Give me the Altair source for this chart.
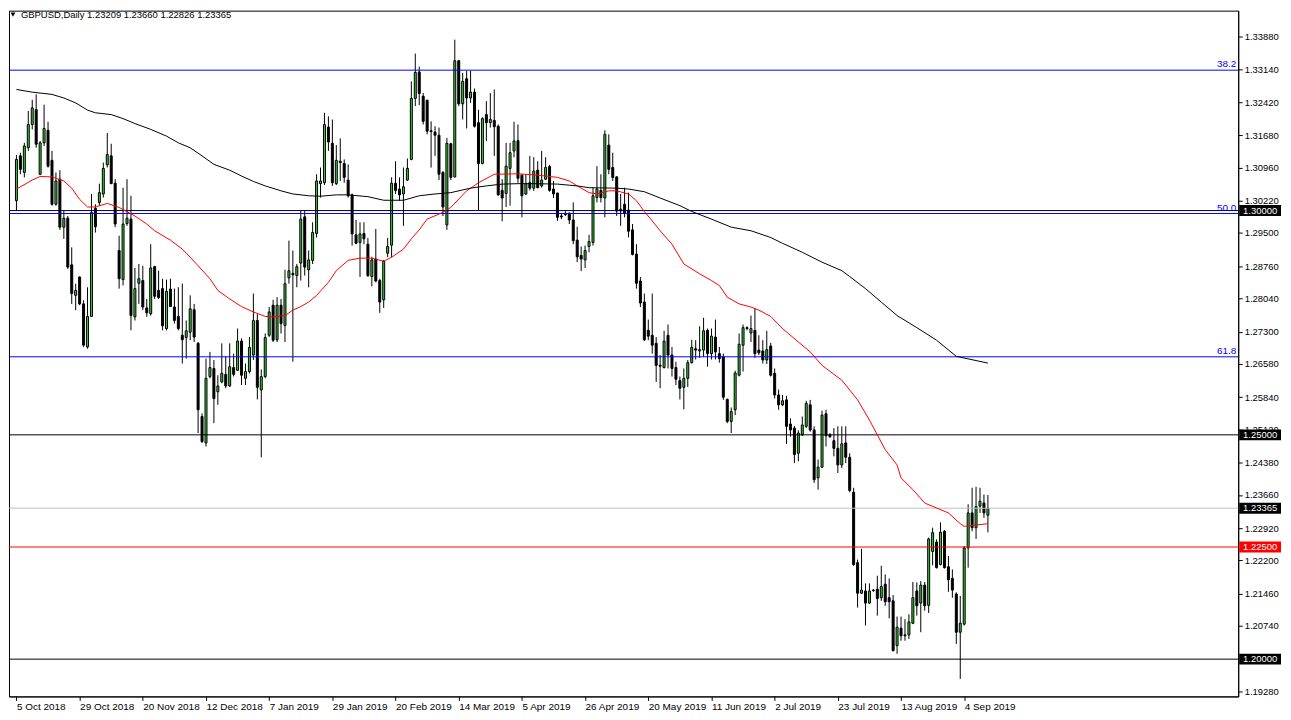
import json
import altair as alt
import pandas as pd

# ---------------- data ----------------
title_text = "GBPUSD,Daily  1.23209 1.23660 1.22826 1.23365"

opens = [1.3022,1.3122,1.3085,1.3140,1.3192,1.3225,1.3081,1.3151,1.3179,1.3112,
1.3014,1.3070,1.2963,1.2983,1.2879,1.2811,1.2852,1.2792,1.2696,1.2764,
1.3005,1.3018,1.3037,1.3102,1.3122,1.3061,1.2911,1.2846,1.2971,1.2981,
1.2763,1.2838,1.2844,1.2783,1.2770,1.2875,1.2822,1.2826,1.2737,1.2825,
1.2785,1.2764,1.2722,1.2717,1.2729,1.2779,1.2704,1.2541,1.2482,1.2630,
1.2648,1.2596,1.2618,1.2635,1.2609,1.2650,1.2644,1.2709,1.2626,1.2641,
1.2678,1.2755,1.2600,1.2630,1.2722,1.2789,1.2712,1.2789,1.2744,1.2850,
1.2860,1.2855,1.2883,1.2986,1.2868,1.2889,1.2949,1.3060,1.3062,1.3186,
1.3150,1.3060,1.3110,1.3105,1.3068,1.3035,1.2946,1.2929,1.2949,1.2925,
1.2853,1.2892,1.2844,1.2801,1.2905,1.2923,1.3061,1.3048,1.3037,1.3068,
1.3114,1.3250,1.3309,1.3255,1.3246,1.3178,1.3175,1.3168,1.3085,1.2968,
1.3149,1.3075,1.3334,1.3238,1.3294,1.3251,1.3264,1.3196,1.3105,1.3214,
1.3196,1.3201,1.3188,1.3045,1.3038,1.3094,1.3133,1.3156,1.3079,1.3037,
1.3062,1.3050,1.3090,1.3055,1.3070,1.3098,1.3048,1.3039,1.2988,1.2992,
1.2994,1.2979,1.2934,1.2900,1.2890,1.2920,1.2929,1.3029,1.3045,1.3028,
1.3146,1.3096,1.3075,1.3003,1.3014,1.3001,1.2957,1.2903,1.2843,1.2796,
1.2733,1.2722,1.2704,1.2655,1.2650,1.2722,1.2678,1.2650,1.2621,1.2606,
1.2626,1.2661,1.2692,1.2687,1.2689,1.2733,1.2681,1.2718,1.2681,1.2674,
1.2579,1.2530,1.2556,1.2633,1.2700,1.2739,1.2727,1.2733,1.2689,1.2687,
1.2667,1.2698,1.2637,1.2589,1.2567,1.2578,1.2524,1.2515,1.2459,1.2500,
1.2519,1.2567,1.2511,1.2404,1.2428,1.2547,1.2500,1.2487,1.2470,1.2433,
1.2482,1.2450,1.2372,1.2215,1.2147,1.2152,1.2125,1.2154,1.2156,1.2137,
1.2167,1.2137,1.2130,1.2030,1.2069,1.2054,1.2054,1.2080,1.2152,1.2125,
1.2165,1.2120,1.2240,1.2261,1.2211,1.2285,1.2206,1.2180,1.2145,1.2060,
1.2078,1.2248,1.2326,1.2293,1.2341,1.2348,1.23209]

highs = [1.3124,1.3129,1.3151,1.3222,1.3247,1.3259,1.3155,1.3236,1.3198,1.3133,
1.3085,1.3090,1.2999,1.2988,1.2918,1.2837,1.2853,1.2800,1.2829,1.3037,
1.3014,1.3060,1.3107,1.3173,1.3149,1.3070,1.2944,1.3051,1.3070,1.3033,
1.2872,1.2881,1.2877,1.2803,1.2925,1.2877,1.2866,1.2848,1.2846,1.2848,
1.2826,1.2829,1.2837,1.2755,1.2811,1.2792,1.2707,1.2548,1.2670,1.2685,
1.2667,1.2633,1.2704,1.2675,1.2704,1.2681,1.2737,1.2715,1.2659,1.2718,
1.2815,1.2769,1.2646,1.2726,1.2785,1.2801,1.2807,1.2803,1.2868,1.2933,
1.2911,1.2881,1.2999,1.2999,1.2911,1.2974,1.3081,1.3096,1.3218,1.3210,
1.3203,1.3146,1.3161,1.3114,1.3103,1.3038,1.2979,1.2974,1.2974,1.2939,
1.2897,1.2959,1.2848,1.2890,1.2939,1.3074,1.3110,1.3074,1.3096,1.3116,
1.3288,1.3350,1.3321,1.3262,1.3247,1.3199,1.3188,1.3185,1.3088,1.3162,
1.3151,1.3381,1.3336,1.3307,1.3312,1.3312,1.3272,1.3225,1.3208,1.3244,
1.3262,1.3270,1.3192,1.3070,1.3151,1.3151,1.3198,1.3192,1.3081,1.3081,
1.3122,1.3119,1.3110,1.3133,1.3119,1.3102,1.3066,1.3040,1.2994,1.2999,
1.2996,1.3018,1.2964,1.2920,1.2922,1.2946,1.3051,1.3099,1.3081,1.3179,
1.3170,1.3129,1.3077,1.3037,1.3051,1.3040,1.2970,1.2925,1.2852,1.2815,
1.2757,1.2815,1.2718,1.2678,1.2732,1.2746,1.2696,1.2663,1.2630,1.2648,
1.2667,1.2712,1.2711,1.2742,1.2761,1.2737,1.2737,1.2757,1.2696,1.2681,
1.2581,1.2561,1.2643,1.2726,1.2746,1.2742,1.2766,1.2783,1.2722,1.2711,
1.2732,1.2705,1.2648,1.2601,1.2589,1.2587,1.2537,1.2520,1.2510,1.2541,
1.2576,1.2578,1.2519,1.2445,1.2554,1.2556,1.2504,1.2515,1.2519,1.2519,
1.2519,1.2459,1.2382,1.2222,1.2246,1.2169,1.2169,1.2156,1.2186,1.2208,
1.2189,1.2180,1.2143,1.2095,1.2095,1.2089,1.2100,1.2172,1.2171,1.2174,
1.2172,1.2271,1.2293,1.2267,1.2305,1.2288,1.2230,1.2200,1.2149,1.2141,
1.2252,1.2345,1.2382,1.2384,1.2382,1.2367,1.23660]

lows = [1.2999,1.3081,1.3074,1.3133,1.3181,1.3140,1.3079,1.3144,1.3096,1.3011,
1.3011,1.2957,1.2937,1.2870,1.2792,1.2778,1.2789,1.2696,1.2692,1.2763,
1.2951,1.3011,1.3029,1.3096,1.3059,1.2963,1.2826,1.2833,1.2966,1.2733,
1.2755,1.2792,1.2778,1.2763,1.2766,1.2803,1.2803,1.2733,1.2733,1.2785,
1.2748,1.2733,1.2659,1.2670,1.2711,1.2707,1.2504,1.2482,1.2474,1.2626,
1.2526,1.2567,1.2615,1.2604,1.2607,1.2630,1.2643,1.2611,1.2611,1.2637,
1.2667,1.2579,1.2450,1.2626,1.2718,1.2707,1.2707,1.2726,1.2707,1.2837,
1.2663,1.2829,1.2844,1.2855,1.2829,1.2881,1.2940,1.3029,1.3057,1.3133,
1.3055,1.3057,1.3066,1.3062,1.3029,1.2922,1.2925,1.2852,1.2925,1.2852,
1.2831,1.2840,1.2772,1.2783,1.2896,1.2896,1.3037,1.3022,1.2966,1.3066,
1.3112,1.3233,1.3235,1.3192,1.3170,1.3096,1.3122,1.3068,1.2988,1.2957,
1.3068,1.3074,1.3233,1.3203,1.3183,1.3240,1.3185,1.3001,1.3103,1.3155,
1.3185,1.3122,1.3033,1.2976,1.3008,1.3011,1.3119,1.3062,1.2985,1.3035,
1.3045,1.3044,1.3050,1.3051,1.3068,1.3042,1.3028,1.2977,1.2981,1.2988,
1.2970,1.2925,1.2885,1.2865,1.2872,1.2907,1.2922,1.3018,1.3018,1.2985,
1.3081,1.3066,1.2988,1.2966,1.2985,1.2940,1.2900,1.2826,1.2785,1.2709,
1.2711,1.2681,1.2618,1.2604,1.2648,1.2648,1.2630,1.2611,1.2579,1.2557,
1.2607,1.2659,1.2668,1.2672,1.2674,1.2652,1.2668,1.2668,1.2661,1.2578,
1.2526,1.2504,1.2544,1.2630,1.2641,1.2733,1.2707,1.2672,1.2678,1.2659,
1.2658,1.2630,1.2581,1.2556,1.2564,1.2480,1.2496,1.2437,1.2441,1.2498,
1.2515,1.2507,1.2393,1.2378,1.2426,1.2474,1.2493,1.2452,1.2415,1.2426,
1.2437,1.2372,1.2208,1.2115,1.2145,1.2075,1.2123,1.2150,1.2097,1.2130,
1.2119,1.2091,1.2017,1.2012,1.2041,1.2041,1.2045,1.2078,1.2097,1.2060,
1.2108,1.2103,1.2209,1.2202,1.2209,1.2202,1.2150,1.2137,1.2034,1.1956,
1.2075,1.2204,1.2285,1.2268,1.2326,1.2315,1.22826]

closes = [1.3114,1.3092,1.3144,1.3192,1.3229,1.3148,1.3151,1.3183,1.3099,1.3014,
1.3066,1.2963,1.2983,1.2874,1.2815,1.2822,1.2792,1.2700,1.2764,1.2996,
1.2964,1.3040,1.3094,1.3125,1.3060,1.2970,1.2848,1.2970,1.2983,1.2766,
1.2826,1.2848,1.2785,1.2772,1.2872,1.2809,1.2806,1.2743,1.2820,1.2786,
1.2755,1.2737,1.2712,1.2732,1.2781,1.2718,1.2556,1.2485,1.2626,1.2650,
1.2581,1.2609,1.2637,1.2609,1.2652,1.2635,1.2709,1.2633,1.2641,1.2695,
1.2755,1.2606,1.2630,1.2717,1.2774,1.2711,1.2789,1.2748,1.2837,1.2866,
1.2857,1.2875,1.2981,1.2874,1.2890,1.2951,1.3066,1.3066,1.3192,1.3153,
1.3062,1.3112,1.3107,1.3074,1.3033,1.2948,1.2927,1.2948,1.2937,1.2855,
1.2890,1.2843,1.2796,1.2887,1.2920,1.3061,1.3045,1.3035,1.3053,1.3094,
1.3250,1.3308,1.3261,1.3199,1.3177,1.3176,1.3168,1.3081,1.3008,1.3150,
1.3074,1.3334,1.3238,1.3288,1.3251,1.3264,1.3188,1.3105,1.3205,1.3196,
1.3203,1.3187,1.3035,1.3028,1.3099,1.3129,1.3155,1.3072,1.3033,1.3060,
1.3050,1.3088,1.3051,1.3068,1.3096,1.3045,1.3037,1.2985,1.2986,1.2991,
1.2979,1.2933,1.2897,1.2892,1.2911,1.2931,1.3033,1.3048,1.3029,1.3170,
1.3092,1.3074,1.2999,1.2999,1.2994,1.2954,1.2902,1.2838,1.2794,1.2712,
1.2720,1.2700,1.2655,1.2653,1.2709,1.2678,1.2648,1.2624,1.2604,1.2626,
1.2661,1.2695,1.2689,1.2690,1.2732,1.2681,1.2720,1.2685,1.2670,1.2584,
1.2530,1.2552,1.2638,1.2702,1.2739,1.2737,1.2737,1.2681,1.2683,1.2667,
1.2690,1.2633,1.2589,1.2567,1.2576,1.2519,1.2511,1.2456,1.2504,1.2522,
1.2570,1.2511,1.2400,1.2428,1.2544,1.2498,1.2496,1.2470,1.2433,1.2480,
1.2450,1.2376,1.2211,1.2147,1.2154,1.2125,1.2152,1.2153,1.2135,1.2162,
1.2128,1.2128,1.2019,1.2071,1.2052,1.2052,1.2083,1.2137,1.2119,1.2165,
1.2119,1.2268,1.2282,1.2204,1.2283,1.2204,1.2177,1.2154,1.2060,1.2080,
1.2248,1.2326,1.2293,1.2340,1.2352,1.2326,1.23365]

# date labels on the time axis, one every 16 bars
date_labels = ["5 Oct 2018", "29 Oct 2018", "20 Nov 2018", "12 Dec 2018",
               "7 Jan 2019", "29 Jan 2019", "20 Feb 2019", "14 Mar 2019",
               "5 Apr 2019", "26 Apr 2019", "20 May 2019", "11 Jun 2019",
               "2 Jul 2019", "23 Jul 2019", "13 Aug 2019", "4 Sep 2019"]
bars_per_label = 16

# red moving average (read at bar positions)
ma_red_bars = [0,4,6,9,12,14,16,18,20,23,26,30,33,35,39,42,44,46,49,51,54,57,60,63,65,68,70,72,74,76,
               79,81,84,87,90,93,95,98,100,102,104,108,110,114,117,121,127,132,137,140,142,145,147,150,152,155,
               157,159,161,163,166,169,173,176,178,180,183,186,188,191,194,198,201,204,207,209,213,216,218,
               220,223,224,227,230,233,236,239,240,243,246]
ma_red_vals = [1.3048,1.3068,1.3076,1.3075,1.3066,1.3050,1.3025,1.3008,1.3008,1.3016,1.3007,1.2988,1.2970,
               1.2955,1.2934,1.2914,1.2896,1.2877,1.2848,1.2822,1.2803,1.2786,1.2774,1.2764,1.2763,1.2766,
               1.2778,1.2786,1.2796,1.2811,1.2840,1.2866,1.2889,1.2894,1.2894,1.2887,1.2896,1.2914,1.2937,
               1.2957,1.2981,1.2996,1.3007,1.3044,1.3062,1.3081,1.3082,1.3079,1.3074,1.3066,1.3055,1.3040,
               1.3037,1.3044,1.3044,1.3037,1.3022,1.2998,1.2977,1.2955,1.2925,1.2881,1.2859,1.2844,1.2833,
               1.2807,1.2792,1.2785,1.2778,1.2764,1.2737,1.2707,1.2685,1.2655,1.2635,1.2622,1.2578,1.2533,
               1.2500,1.2467,1.2433,1.2404,1.2378,1.2348,1.2337,1.2326,1.2302,1.2296,1.2299,1.2302]

# black moving average (read at bar positions)
ma_black_bars = [0,4,9,12,15,18,20,24,27,30,34,38,41,44,47,50,54,57,60,63,67,70,74,77,81,84,89,93,98,102,
                 106,110,115,119,123,127,131,137,142,145,152,155,159,163,168,171,176,181,186,191,194,199,
                 204,209,211,215,219,223,228,233,238,246]
ma_black_vals = [1.3270,1.3264,1.3259,1.3251,1.3240,1.3224,1.3218,1.3214,1.3205,1.3194,1.3181,1.3166,1.3151,
                 1.3140,1.3122,1.3103,1.3090,1.3077,1.3065,1.3055,1.3044,1.3037,1.3033,1.3032,1.3035,1.3035,
                 1.3031,1.3023,1.3023,1.3033,1.3037,1.3040,1.3050,1.3055,1.3059,1.3060,1.3060,1.3059,1.3055,
                 1.3051,1.3050,1.3048,1.3042,1.3028,1.3011,1.2998,1.2981,1.2963,1.2955,1.2940,1.2927,1.2907,
                 1.2885,1.2866,1.2853,1.2826,1.2796,1.2766,1.2739,1.2711,1.2675,1.2660]

price_ticks = [1.3388, 1.3314, 1.3242, 1.3168, 1.3096, 1.3022, 1.2950, 1.2876, 1.2804,
               1.2730, 1.2658, 1.2584, 1.2512, 1.2438, 1.2366, 1.2292, 1.2220, 1.2146,
               1.2074, 1.1928]

fib_levels = [1.3313, 1.29935, 1.2674]
fib_names = ["38.2", "50.0", "61.8"]

level_prices = [1.3000, 1.2500, 1.2250, 1.2000]
level_colors = ["#000000", "#000000", "#ff0000", "#000000"]
bid_price = 1.23365

# ---------------- layout / style ----------------
W, H = 1235, 689
FONT = "Liberation Sans"
GREEN = "#32cd32"
BLUE = "#0000ff"

xs = alt.Scale(domain=[-0.625, 308.125], nice=False, zero=False)
ys = alt.Scale(domain=[1.19169, 1.34457], nice=False, zero=False)

candles = pd.DataFrame({
    "bar": list(range(len(opens))),
    "open": opens, "high": highs, "low": lows, "close": closes,
})
candles["dir"] = ["up" if c >= o else "down" for o, c in zip(opens, closes)]

tick_bars = [i * bars_per_label for i in range(len(date_labels))]
label_expr = json.dumps(date_labels) + f"[round(datum.value / {bars_per_label})]"

x_axis = alt.Axis(values=tick_bars, labelExpr=label_expr, orient="bottom",
                  labelAlign="left", labelFlush=False, labelOverlap=False,
                  labelFont=FONT, labelFontSize=10, labelColor="black",
                  tickColor="black", tickSize=4, labelPadding=1,
                  domainColor="black", grid=False, title=None)
y_axis = alt.Axis(values=price_ticks, format=".5f", orient="right",
                  labelFont=FONT, labelFontSize=9.5, labelColor="black",
                  labelOverlap=False, labelFlush=False,
                  tickColor="black", tickSize=4, labelPadding=2,
                  domainColor="black", grid=False, title=None)


def X(field):
    return alt.X(field, scale=xs, axis=x_axis)


def Y(field):
    return alt.Y(field, scale=ys, axis=y_axis)


wicks = alt.Chart(candles).mark_rule(color="black", strokeWidth=1).encode(
    x=X("bar:Q"), y=Y("low:Q"), y2="high:Q",
)

bodies = alt.Chart(candles).mark_bar(size=2, stroke="black", strokeWidth=1).encode(
    x=X("bar:Q"), y=Y("open:Q"), y2="close:Q",
    fill=alt.Fill("dir:N", scale=alt.Scale(domain=["up", "down"], range=[GREEN, "black"]), legend=None),
)

lines_df = pd.DataFrame({
    "price": fib_levels + level_prices + [bid_price],
    "col": [BLUE] * len(fib_levels) + level_colors + ["#c0c0c0"],
})
hlines = alt.Chart(lines_df).mark_rule(strokeWidth=1).encode(
    y=Y("price:Q"), color=alt.Color("col:N", scale=None),
)

ma_red = alt.Chart(pd.DataFrame({"bar": ma_red_bars, "v": ma_red_vals})).mark_line(
    color="#ff0000", strokeWidth=1).encode(x=X("bar:Q"), y=Y("v:Q"))

ma_black = alt.Chart(pd.DataFrame({"bar": ma_black_bars, "v": ma_black_vals})).mark_line(
    color="#000000", strokeWidth=1).encode(x=X("bar:Q"), y=Y("v:Q"))

fib_text = alt.Chart(pd.DataFrame({"price": fib_levels, "name": fib_names})).mark_text(
    align="right", baseline="bottom", dy=-1, font=FONT, fontSize=10, color=BLUE).encode(
    x=alt.value(W - 2), y=Y("price:Q"), text="name:N")

box_df = pd.DataFrame({
    "price": level_prices + [bid_price],
    "col": level_colors + ["#000000"],
    "txt": [f"{p:.5f}" for p in level_prices + [bid_price]],
})
boxes = alt.Chart(box_df).mark_tick(orient="horizontal", size=42, thickness=11, opacity=1,
                                    clip=False).encode(
    x=alt.value(W + 22), y=Y("price:Q"), color=alt.Color("col:N", scale=None))
box_text = alt.Chart(box_df).mark_text(font=FONT, fontSize=9.5, color="white", align="center",
                                       baseline="middle", clip=False).encode(
    x=alt.value(W + 22), y=Y("price:Q"), text="txt:N")

head_df = pd.DataFrame({"t": [title_text]})
head_tri = alt.Chart(head_df).mark_point(shape="triangle-down", filled=True, size=22,
                                         color="black", opacity=1).encode(
    x=alt.value(4), y=alt.value(4))
head_text = alt.Chart(head_df).mark_text(align="left", baseline="middle", font=FONT,
                                         fontSize=9.5, color="black").encode(
    x=alt.value(12), y=alt.value(4), text="t:N")

chart = alt.layer(
    wicks, bodies, hlines, ma_red, ma_black, fib_text, boxes, box_text, head_tri, head_text
).properties(
    width=W, height=H, padding={"left": 0, "top": 0, "right": 2, "bottom": 0},
    background="white",
).configure_view(stroke="black", strokeWidth=1)

chart.save("out.html", embed_options={"renderer": "svg", "actions": False})
